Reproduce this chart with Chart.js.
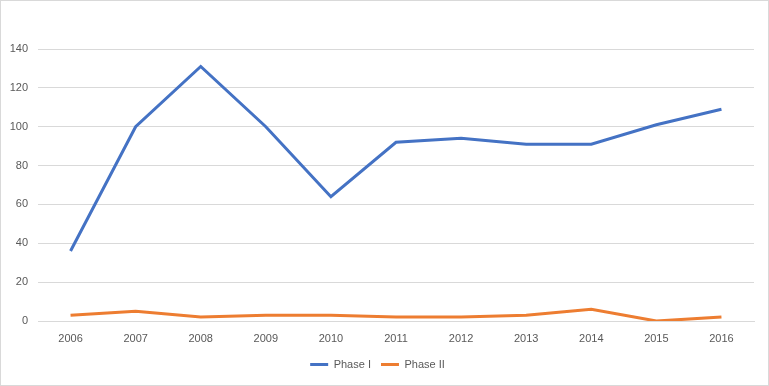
<!DOCTYPE html>
<html>
<head>
<meta charset="utf-8">
<script src="https://cdn.jsdelivr.net/npm/chart.js@4"></script>
<style>
  html, body { margin: 0; padding: 0; background: #fff; }
  #wrap { position: relative; width: 769px; height: 386px; box-sizing: border-box; border: 1px solid #d9d9d9; }
  canvas { display: block; }
</style>
</head>
<body>
<div id="wrap"><canvas id="chart" width="767" height="384"></canvas></div>
<script>
// data
const years = ['2006', '2007', '2008', '2009', '2010', '2011', '2012', '2013', '2014', '2015', '2016'];
const phaseOne = [36, 100, 131, 100, 64, 92, 94, 91, 91, 101, 109];
const phaseTwo = [3, 5, 2, 3, 3, 2, 2, 3, 6, 0, 2];

const textColor = '#595959';
const gridColor = '#d9d9d9';
const font = { family: 'Liberation Sans', size: 11 };

new Chart(document.getElementById('chart'), {
    type: 'line',
    data: {
        labels: years,
        datasets: [
            { label: 'Phase I', data: phaseOne, borderColor: '#4472C4', backgroundColor: '#4472C4', borderWidth: 3, pointRadius: 0, tension: 0 },
            { label: 'Phase II', data: phaseTwo, borderColor: '#ED7D31', backgroundColor: '#ED7D31', borderWidth: 3, pointRadius: 0, tension: 0 }
        ]
    },
    options: {
        responsive: false,
        animation: false,
        layout: { padding: { left: 0, right: 14, top: 48, bottom: 5 } },
        scales: {
            x: {
                offset: true,
                grid: { display: false },
                border: { color: gridColor },
                ticks: { color: textColor, font: font, padding: 3, maxRotation: 0 },
                afterFit: (axis) => { axis.height = 28; }
            },
            y: {
                min: 0,
                max: 140,
                ticks: { stepSize: 20, color: textColor, font: font, padding: 10 },
                grid: { color: gridColor, drawTicks: false },
                border: { display: false },
                afterFit: (axis) => { axis.width = 37; }
            }
        },
        plugins: {
            legend: {
                position: 'bottom',
                labels: {
                    color: textColor,
                    font: font,
                    usePointStyle: true,
                    pointStyle: 'line',
                    pointStyleWidth: 18,
                    boxHeight: 10,
                    padding: 10
                }
            },
            tooltip: { enabled: false }
        }
    }
});
</script>
</body>
</html>
